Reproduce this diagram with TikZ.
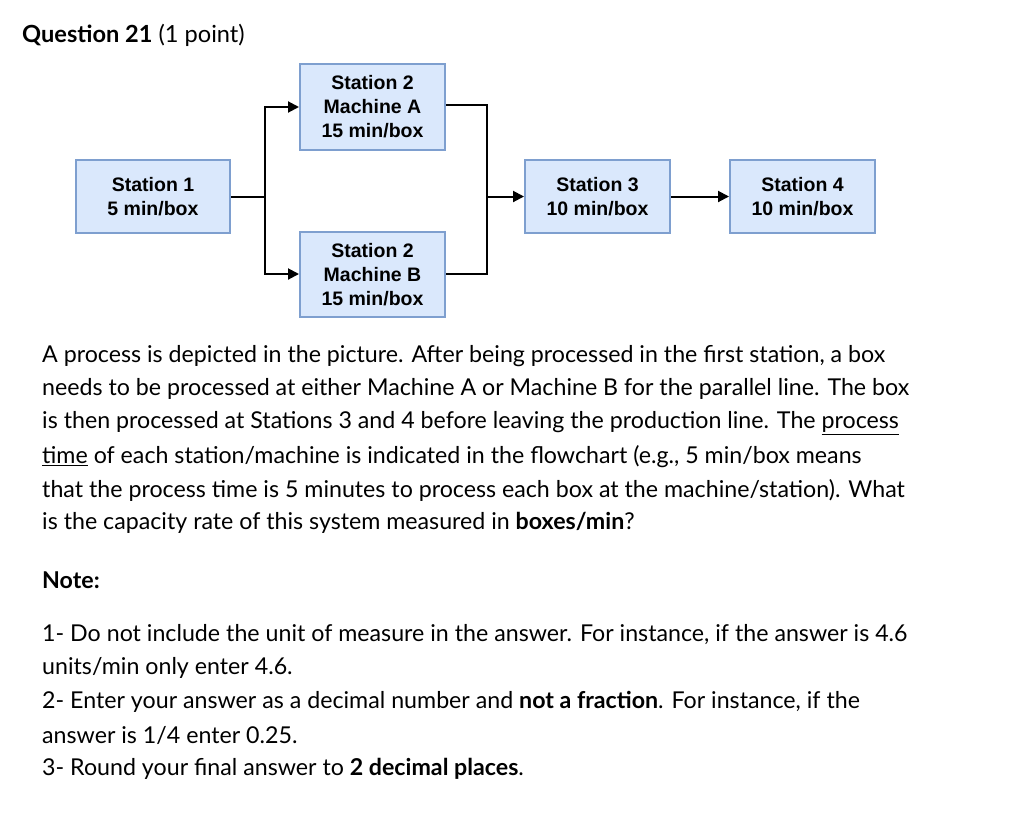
\documentclass[tikz,border=0pt]{standalone}
\usepackage{fontspec}
\usetikzlibrary{arrows.meta}
\setmainfont{Lato}
\newfontfamily\diag{Liberation Sans}
\begin{document}
\begin{tikzpicture}[x=1pt,y=-1pt,
  bx/.style={draw=boxedge,fill=boxfill,line width=2pt,minimum width=145pt,inner sep=0pt,align=center,font=\diag\bfseries\fontsize{19.5}{24}\selectfont},
  ln/.style={line width=2pt},
  ar/.style={line width=2pt,-{Triangle[length=11pt,width=11pt]}},
  tx/.style={anchor=west,inner sep=0,font=\fontsize{23.2}{24}\selectfont}]
\definecolor{boxfill}{HTML}{DAE8FC}
\definecolor{boxedge}{HTML}{7E9FCF}
\useasboundingbox (0,0) rectangle (1024,812);
\node[bx,minimum height=86pt] (s2a) at (372.5,107) {Station 2\\Machine A\\15 min/box};
\node[bx,minimum height=85pt] (s2b) at (372.5,274.5) {Station 2\\Machine B\\15 min/box};
\node[bx,minimum height=73pt,minimum width=154pt] (s1) at (153,196.5) {Station 1\\5 min/box};
\node[bx,minimum height=73pt] (s3) at (597.5,196.5) {Station 3\\10 min/box};
\node[bx,minimum height=73pt] (s4) at (802.5,196.5) {Station 4\\10 min/box};
\coordinate (j1) at (265,196.5);
\coordinate (j2) at (487,196.5);
\draw[ln] (s1.east) -- (j1);
\draw[ar] (j1) |- (s2a.west |- 0,107);
\draw[ar] (j1) |- (s2b.west |- 0,274);
\draw[ln] (s2a.east |- 0,105) -| (j2);
\draw[ln] (s2b.east |- 0,274) -| (j2);
\draw[ar] (j2) -- (s3.west);
\draw[ar] (s3.east) -- (s4.west);
\node[tx,font=\fontsize{23.6}{24}\selectfont] (t) at (22,35) {\textbf{Question 21} (1 point)};
\node[tx] (l1) at (42,356) {A process is depicted in the picture. After being processed in the first station, a box};
\node[tx] (l2) at (42,389) {needs to be processed at either Machine A or Machine B for the parallel line. The box};
\node[tx] (l3) at (42,423) {is then processed at Stations 3 and 4 before leaving the production line. The \underline{process}};
\node[tx] (l4) at (42,457) {\underline{time} of each station/machine is indicated in the flowchart (e.g., 5 min/box means};
\node[tx] (l5) at (42,490) {that the process time is 5 minutes to process each box at the machine/station). What};
\node[tx] (l6) at (42,523) {is the capacity rate of this system measured in \textbf{boxes/min}?};
\node[tx] (n) at (42,580) {\textbf{Note:}};
\node[tx] (m1) at (42,635) {1- Do not include the unit of measure in the answer. For instance, if the answer is 4.6};
\node[tx] (m2) at (42,668) {units/min only enter 4.6.};
\node[tx] (m3) at (42,702) {2- Enter your answer as a decimal number and \textbf{not a fraction}. For instance, if the};
\node[tx] (m4) at (42,735) {answer is 1/4 enter 0.25.};
\node[tx] (m5) at (42,769) {3- Round your final answer to \textbf{2 decimal places}.};
\end{tikzpicture}
\end{document}
